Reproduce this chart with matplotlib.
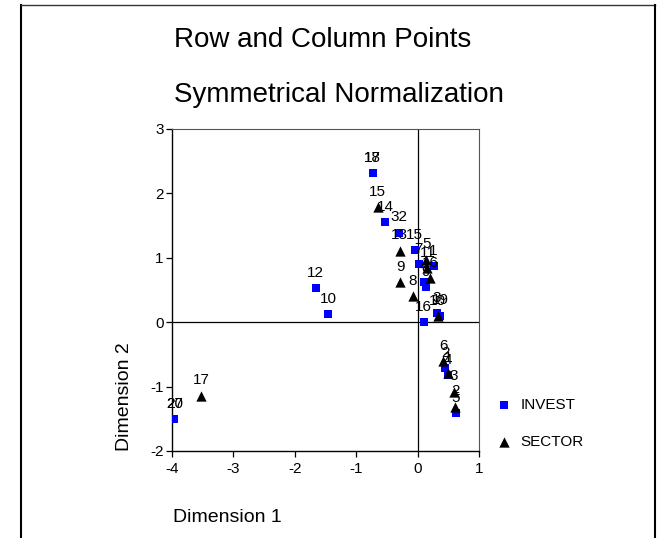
import numpy as np
import matplotlib
matplotlib.use("Agg")
import matplotlib.pyplot as plt
from matplotlib.lines import Line2D

plt.rcParams['font.family'] = ['Liberation Sans', 'DejaVu Sans']
plt.rcParams['axes.unicode_minus'] = False

# row points (INVEST)
invest_labels = ['17', '18', '14', '32', '15', '12', '10', '7', '1', '4', '9',
                 '16', '3', '19', '20', '27', '2', '4', '5']
invest_x = [-0.73, -0.73, -0.53, -0.31, -0.05, -1.66, -1.46, 0.02, 0.26, 0.10, 0.13,
            0.10, 0.31, 0.37, -3.96, -3.96, 0.45, 0.49, 0.62]
invest_y = [2.31, 2.31, 1.55, 1.39, 1.12, 0.53, 0.12, 0.90, 0.87, 0.63, 0.55,
            0.00, 0.14, 0.10, -1.50, -1.50, -0.71, -0.82, -1.41]

# column points (SECTOR)
sector_labels = ['15', '13', '9', '8', '5', '11', '16', '10', '17', '6', '1', '3', '2']
sector_x = [-0.65, -0.29, -0.28, -0.08, 0.14, 0.16, 0.21, 0.33, -3.53, 0.42, 0.50, 0.59, 0.61]
sector_y = [1.79, 1.11, 0.62, 0.40, 0.97, 0.84, 0.68, 0.09, -1.14, -0.61, -0.79, -1.08, -1.31]

W, H = 666, 538
fig = plt.figure(figsize=(W / 100, H / 100), dpi=100)
ax = fig.add_axes([172 / W, 1 - 451 / H, 307 / W, 322 / H])

ax.axhline(0, color='black', lw=0.9, zorder=1)
ax.axvline(0, color='black', lw=0.9, zorder=1)

sq = ax.scatter(invest_x, invest_y, marker='s', s=26, color='#0000FF',
                linewidths=0, zorder=3, label='INVEST')
tr = ax.scatter(sector_x, sector_y, marker='^', s=55, color='black',
                linewidths=0, zorder=4, label='SECTOR')

for lab, x, y in zip(invest_labels, invest_x, invest_y):
    ax.annotate(lab, (x, y), xytext=(0, 11), textcoords='offset points',
                ha='center', va='center', fontsize=11, zorder=5)
for lab, x, y in zip(sector_labels, sector_x, sector_y):
    ax.annotate(lab, (x, y), xytext=(0, 11), textcoords='offset points',
                ha='center', va='center', fontsize=11, zorder=5)

ax.set_xlim(-4, 1)
ax.set_ylim(-2, 3)
ax.set_xticks(range(-4, 2))
ax.set_yticks(range(-2, 4))
ax.tick_params(direction='out', length=4, width=0.9, labelsize=11)
ax.tick_params(axis='x', pad=4)
ax.tick_params(axis='y', pad=2)
for s in ['left', 'bottom']:
    ax.spines[s].set_color('black')
    ax.spines[s].set_linewidth(1.0)
for s in ['top', 'right']:
    ax.spines[s].set_color('#555555')
    ax.spines[s].set_linewidth(0.8)

ax.legend(handles=[sq, tr], loc='upper left', bbox_to_anchor=(490 / W, 1 - 390 / H),
          bbox_transform=fig.transFigure, frameon=False, fontsize=11,
          handlelength=0.8, handletextpad=0.7, labelspacing=1.5, borderpad=0)

fig.text(174 / W, 1 - 47 / H, 'Row and Column Points', fontsize=20, va='baseline')
fig.text(174 / W, 1 - 102 / H, 'Symmetrical Normalization', fontsize=20, va='baseline')
fig.text(173 / W, 1 - 522 / H, 'Dimension 1', fontsize=14, va='baseline')
fig.text(125 / W, 1 - 451 / H, 'Dimension 2', fontsize=14, rotation=90,
         ha='center', va='bottom')

# outer frame
fig.add_artist(Line2D([21 / W, 21 / W], [0, 1 - 5 / H], color='black', lw=1.5))
fig.add_artist(Line2D([21 / W, 655 / W], [1 - 5 / H, 1 - 5 / H], color='#333333', lw=1.0))
fig.add_artist(Line2D([655 / W, 655 / W], [0, 1 - 5 / H], color='black', lw=1.5))

fig.savefig('out.png', dpi=100)
